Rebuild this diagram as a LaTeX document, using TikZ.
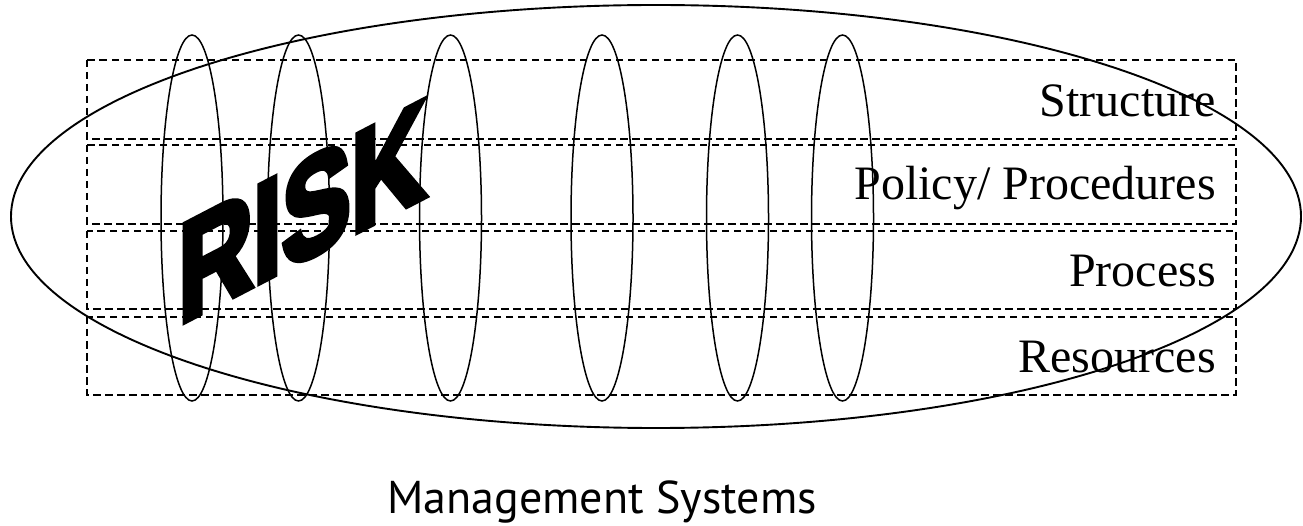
\documentclass[tikz,border=0pt]{standalone}
\usepackage{fontspec}
\setmainfont{Liberation Serif}
\newfontfamily\captionfont{PT Sans}
\newfontfamily\riskfont{Liberation Sans}[FakeBold=5]
\begin{document}
\begin{tikzpicture}[x=1pt,y=-1pt,
  outline/.style={line width=1.9pt},
  pillar/.style={line width=1.5pt},
  band/.style={draw, line width=1.6pt, dash pattern=on 7.5pt off 4.5pt},
  layer/.style={font=\fontsize{48}{48}\selectfont, anchor=base east, inner sep=0pt},
  ]
\useasboundingbox (0,0) rectangle (1303,526);

% outer system ellipse
\draw[outline] (656,216.5) ellipse [x radius=645, y radius=211.5];

% vertical pillars
\foreach \px in {192,298.5,450.5,602,737.5,842.5}
  \draw[pillar] (\px,218) ellipse [x radius=31, y radius=183];

% four dashed layers
\draw[band] (87,60)  rectangle (1236,139);
\draw[band] (87,145) rectangle (1236,224);
\draw[band] (87,231) rectangle (1236,309);
\draw[band] (87,317) rectangle (1236,395);

% layer labels
\node[layer] (structure) at (1216,117) {Structure};
\node[layer] (policy)    at (1216,200) {Policy/ Procedures};
\node[layer] (process)   at (1216,287) {Process};
\node[layer] (resources) at (1216,372) {Resources};

% caption
\node[font=\captionfont\fontsize{46}{46}\selectfont, anchor=base, inner sep=0pt]
  (caption) at (602,513) {Management Systems};

% slanted RISK banner
\node[font=\riskfont\bfseries\fontsize{140}{140}\selectfont, inner sep=0pt,
      yslant=0.52, xscale=0.74] (risk) at (302,212) {RISK};
\end{tikzpicture}
\end{document}
